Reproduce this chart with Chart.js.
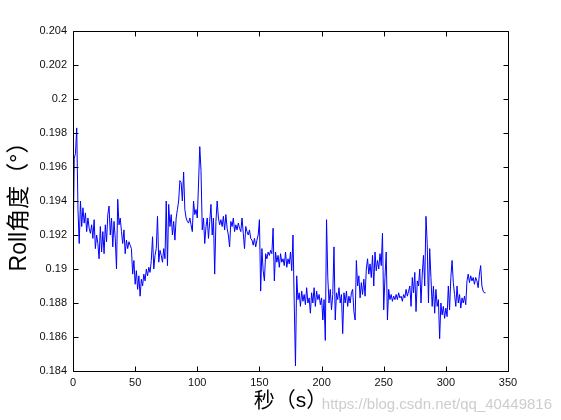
<!DOCTYPE html>
<html>
<head>
<meta charset="utf-8">
<script src="https://cdn.jsdelivr.net/npm/chart.js@4"></script>
<style>
  html, body { margin: 0; padding: 0; background: #fff; }
</style>
</head>
<body>
<canvas id="courbe" width="561" height="420"></canvas>
<script>
// une valeur par seconde
const roll = [
  0.1906, 0.1965, 0.1968, 0.1983, 0.1935, 0.1915, 0.1940, 0.1925, 0.1936, 0.1927,
  0.1933, 0.1922, 0.1930, 0.1924, 0.1921, 0.1926, 0.1918, 0.1929, 0.1912, 0.1920,
  0.1915, 0.1906, 0.1925, 0.1910, 0.1922, 0.1909, 0.1926, 0.1916, 0.1932, 0.1937,
  0.1920, 0.1930, 0.1913, 0.1928, 0.1918, 0.1900, 0.1941, 0.1926, 0.1930, 0.1922,
  0.1915, 0.1923, 0.1909, 0.1917, 0.1912, 0.1916, 0.1914, 0.1912, 0.1897, 0.1905,
  0.1891, 0.1899, 0.1888, 0.1896, 0.1884, 0.1894, 0.1890, 0.1897, 0.1893, 0.1900,
  0.1896, 0.1901, 0.1898, 0.1905, 0.1919, 0.1900, 0.1908, 0.1912, 0.1931, 0.1904,
  0.1911, 0.1908, 0.1904, 0.1912, 0.1906, 0.1940, 0.1902, 0.1938, 0.1925, 0.1932,
  0.1920, 0.1928, 0.1917, 0.1930, 0.1935, 0.1940, 0.1952, 0.1951, 0.1940, 0.1957,
  0.1935, 0.1930, 0.1928, 0.1927, 0.1930, 0.1926, 0.1922, 0.1940, 0.1932, 0.1935,
  0.1930, 0.1950, 0.1972, 0.1958, 0.1923, 0.1930, 0.1915, 0.1925, 0.1930, 0.1918,
  0.1928, 0.1938, 0.1920, 0.1930, 0.1897, 0.1928, 0.1940, 0.1930, 0.1926, 0.1929,
  0.1925, 0.1931, 0.1923, 0.1932, 0.1924, 0.1920, 0.1913, 0.1928, 0.1925, 0.1930,
  0.1922, 0.1926, 0.1923, 0.1927, 0.1924, 0.1922, 0.1930, 0.1921, 0.1912, 0.1925,
  0.1922, 0.1920, 0.1923, 0.1918, 0.1917, 0.1914, 0.1918, 0.1913, 0.1917, 0.1920,
  0.1929, 0.1887, 0.1912, 0.1899, 0.1893, 0.1909, 0.1906, 0.1910, 0.1908, 0.1911,
  0.1909, 0.1924, 0.1893, 0.1910, 0.1904, 0.1908, 0.1901, 0.1909, 0.1904, 0.1906,
  0.1902, 0.1910, 0.1901, 0.1906, 0.1903, 0.1910, 0.1899, 0.1920, 0.1880, 0.1843,
  0.1896, 0.1882, 0.1886, 0.1878, 0.1887, 0.1881, 0.1885, 0.1879, 0.1889, 0.1880,
  0.1883, 0.1874, 0.1886, 0.1880, 0.1889, 0.1878, 0.1887, 0.1882, 0.1885, 0.1879,
  0.1883, 0.1870, 0.1882, 0.1858, 0.1929, 0.1895, 0.1880, 0.1888, 0.1876, 0.1885,
  0.1913, 0.1870, 0.1886, 0.1882, 0.1889, 0.1880, 0.1885, 0.1862, 0.1886, 0.1880,
  0.1887, 0.1878, 0.1884, 0.1880, 0.1886, 0.1888, 0.1875, 0.1870, 0.1905, 0.1890,
  0.1896, 0.1883, 0.1892, 0.1885, 0.1894, 0.1884, 0.1900, 0.1906, 0.1897, 0.1903,
  0.1895, 0.1908, 0.1890, 0.1910, 0.1899, 0.1905, 0.1900, 0.1909, 0.1902, 0.1921,
  0.1876, 0.1895, 0.1910, 0.1870, 0.1888, 0.1882, 0.1885, 0.1881, 0.1884, 0.1882,
  0.1885, 0.1882, 0.1886, 0.1883, 0.1884, 0.1881, 0.1885, 0.1883, 0.1888, 0.1884,
  0.1887, 0.1890, 0.1878, 0.1895, 0.1886, 0.1898, 0.1875, 0.1893, 0.1890, 0.1900,
  0.1880, 0.1897, 0.1908, 0.1890, 0.1931, 0.1915, 0.1880, 0.1912, 0.1895, 0.1878,
  0.1890, 0.1874, 0.1888, 0.1878, 0.1882, 0.1859, 0.1880, 0.1873, 0.1878, 0.1871,
  0.1877, 0.1872, 0.1890, 0.1876, 0.1895, 0.1905, 0.1892, 0.1885, 0.1878, 0.1890,
  0.1880, 0.1885, 0.1877, 0.1883, 0.1880, 0.1884, 0.1879, 0.1893, 0.1897, 0.1892,
  0.1896, 0.1893, 0.1895, 0.1891, 0.1895, 0.1893, 0.1889, 0.1897, 0.1902, 0.1890,
  0.1887, 0.1886, 0.1886
];
const xTicks = [0, 50, 100, 150, 200, 250, 300, 350];
const yTicks = [0.184, 0.186, 0.188, 0.19, 0.192, 0.194, 0.196, 0.198, 0.2, 0.202, 0.204];
const xTitre = "秒（s）";
const yTitre = "Roll角度（°）";
const filigrane = "https://blog.csdn.net/qq_40449816";

const policeTicks = { family: "'Liberation Sans', Arial, sans-serif", size: 11 };
const policeX = { family: "'Liberation Sans', 'Noto Sans CJK SC', sans-serif", size: 21 };
const policeY = { family: "'Liberation Sans', 'Noto Sans CJK SC', sans-serif", size: 23 };

// cadre façon matlab : boite fermée + graduations vers l'intérieur
const cadre = {
  id: 'cadre',
  beforeDraw(chart) {
    const ctx = chart.ctx;
    ctx.save();
    ctx.fillStyle = '#fff';
    ctx.fillRect(0, 0, chart.width, chart.height);
    ctx.font = "15px 'Liberation Sans', Arial, sans-serif";
    ctx.fillStyle = 'rgba(200,200,200,0.9)';
    ctx.textAlign = 'right';
    ctx.textBaseline = 'alphabetic';
    ctx.fillText(filigrane, 552, 409);
    ctx.restore();
  },
  afterDatasetsDraw(chart) {
    const { ctx, chartArea: a, scales } = chart;
    const l = Math.round(a.left) + 0.5, r = Math.round(a.right) + 0.5;
    const t = Math.round(a.top) + 0.5, b = Math.round(a.bottom) + 0.5;
    const tic = 5;
    ctx.save();
    ctx.strokeStyle = '#000';
    ctx.lineWidth = 1;
    ctx.beginPath();
    ctx.rect(l, t, r - l, b - t);
    xTicks.forEach(v => {
      const x = Math.round(scales.x.getPixelForValue(v)) + 0.5;
      ctx.moveTo(x, b); ctx.lineTo(x, b - tic);
      ctx.moveTo(x, t); ctx.lineTo(x, t + tic);
    });
    yTicks.forEach(v => {
      const y = Math.round(scales.y.getPixelForValue(v)) + 0.5;
      ctx.moveTo(l, y); ctx.lineTo(l + tic, y);
      ctx.moveTo(r, y); ctx.lineTo(r - tic, y);
    });
    ctx.stroke();
    ctx.restore();
  }
};

new Chart(document.getElementById('courbe'), {
  type: 'line',
  data: {
    datasets: [{
      data: roll.map((v, i) => ({ x: i, y: v })),
      borderColor: '#0000ff',
      borderWidth: 1,
      pointRadius: 0,
      fill: false,
      tension: 0
    }]
  },
  options: {
    responsive: false,
    animation: false,
    events: [],
    layout: { padding: { left: 0, top: 31, right: 53, bottom: 0 } },
    plugins: { legend: { display: false }, tooltip: { enabled: false } },
    scales: {
      x: {
        type: 'linear',
        min: 0,
        max: 350,
        afterBuildTicks: s => { s.ticks = xTicks.map(v => ({ value: v })); },
        afterFit: s => { s.height = 49; },
        grid: { display: false, drawTicks: false },
        border: { display: false },
        ticks: { font: policeTicks, color: '#111', padding: 5, maxRotation: 0 },
        title: { display: true, text: xTitre, font: policeX, color: '#000', padding: { top: 0, bottom: 6 } }
      },
      y: {
        type: 'linear',
        min: 0.184,
        max: 0.204,
        afterBuildTicks: s => { s.ticks = yTicks.map(v => ({ value: v })); },
        afterFit: s => { s.width = 73; },
        grid: { display: false, drawTicks: false },
        border: { display: false },
        ticks: {
          font: policeTicks,
          color: '#111',
          padding: 6,
          callback: v => String(parseFloat(Number(v).toFixed(3)))
        },
        title: { display: true, text: yTitre, font: policeY, color: '#000', padding: { top: 6, bottom: 0 } }
      }
    }
  },
  plugins: [cadre]
});
</script>
</body>
</html>
